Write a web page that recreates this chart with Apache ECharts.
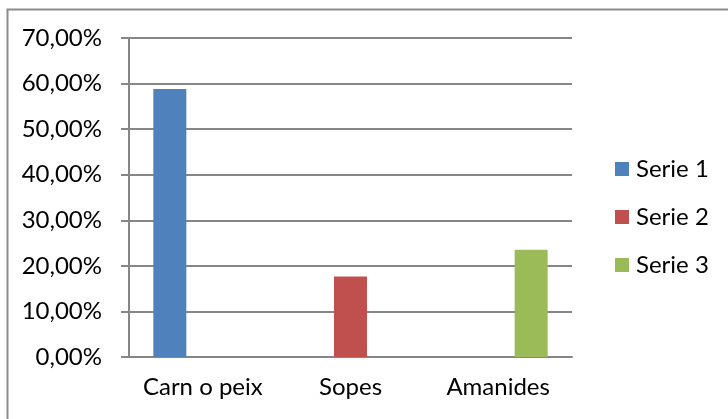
<!DOCTYPE html>
<html>
<head>
<meta charset="utf-8">
<script src="https://cdn.jsdelivr.net/npm/echarts@6/dist/echarts.min.js"></script>
<style>html,body{margin:0;padding:0;background:#fff;}#c{width:728px;height:419px;}</style>
</head>
<body>
<div id="c"></div>
<script>
const categories = ['Carn o peix', 'Sopes', 'Amanides'];
const seriesNames = ['Serie 1', 'Serie 2', 'Serie 3'];
const serie1 = [0.5882, null, null];
const serie2 = [null, 0.1765, null];
const serie3 = [null, null, 0.2353];
const colors = ['#4F81BD', '#C0504D', '#9BBB59'];
const yTicks = [0, 0.1, 0.2, 0.3, 0.4, 0.5, 0.6, 0.7];

const chart = echarts.init(document.getElementById('c'));
const font = 'Lato';
const fs = 24;
const fmt = v => (v * 100).toFixed(2).replace('.', ',') + '%';
const mk = (name, data, i) => ({
  name: name, type: 'bar', data: data, barWidth: 33, barGap: '0%',
  itemStyle: { color: colors[i] }
});
chart.setOption({
  animation: false,
  graphic: [{
    type: 'rect', shape: { x: 7.5, y: 9.5, width: 800, height: 500 },
    style: { fill: 'none', stroke: '#8c8c8c', lineWidth: 2 }, silent: true
  }],
  grid: { left: 129, right: 156, top: 38, bottom: 62 },
  legend: {
    orient: 'vertical', left: 615, top: 157, padding: 0, itemWidth: 14, itemHeight: 14, itemGap: 24,
    icon: 'rect',
    textStyle: { fontFamily: font, fontSize: fs, color: '#000', lineHeight: 24, padding: [0, 0, 0, 2] },
    data: seriesNames
  },
  xAxis: {
    type: 'category', data: categories,
    axisLine: { lineStyle: { color: '#868686', width: 2 } },
    axisTick: { length: 8, lineStyle: { color: '#868686', width: 2 } },
    axisLabel: { fontFamily: font, fontSize: fs, color: '#000', margin: 18, interval: 0 }
  },
  yAxis: {
    type: 'value', min: 0, max: 0.7, interval: 0.1,
    axisLine: { show: true, lineStyle: { color: '#868686', width: 2 } },
    axisTick: { show: true, length: 8, lineStyle: { color: '#868686', width: 2 } },
    splitLine: { lineStyle: { color: '#868686', width: 2 } },
    axisLabel: { fontFamily: font, fontSize: fs, color: '#000', margin: 27, formatter: fmt }
  },
  series: [mk(seriesNames[0], serie1, 0), mk(seriesNames[1], serie2, 1), mk(seriesNames[2], serie3, 2)]
});
</script>
</body>
</html>
